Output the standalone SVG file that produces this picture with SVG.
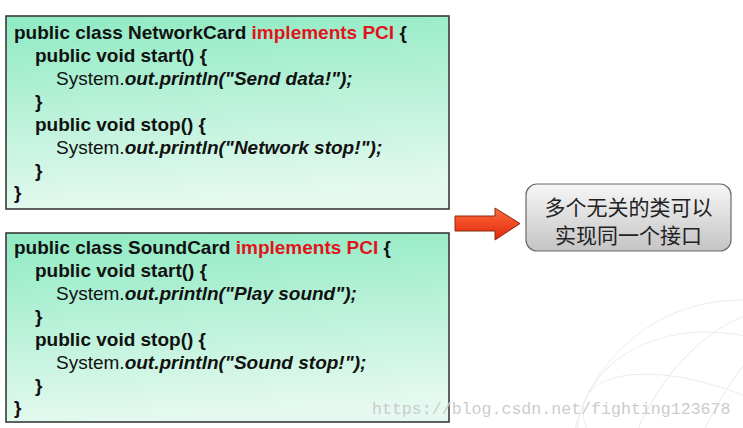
<svg xmlns="http://www.w3.org/2000/svg" width="743" height="428" viewBox="0 0 743 428">
<defs>
<linearGradient id="gBox" x1="0" y1="0" x2="0.15" y2="1">
<stop offset="0" stop-color="#8eeac3"/>
<stop offset="1" stop-color="#e4f9ef"/>
</linearGradient>
<linearGradient id="gNote" x1="0" y1="0" x2="0" y2="1">
<stop offset="0" stop-color="#f7f7f7"/>
<stop offset="1" stop-color="#c4c4c4"/>
</linearGradient>
<linearGradient id="gArrow" x1="0" y1="0" x2="0" y2="1">
<stop offset="0" stop-color="#ff6a3a"/>
<stop offset="1" stop-color="#e0280c"/>
</linearGradient>
<clipPath id="clipG"><rect x="0" y="0" width="743" height="428"/></clipPath>
<style>
.box{fill:url(#gBox);stroke:#3a3a3a;stroke-width:1.6}
.code{font-family:"Liberation Sans",Arial,sans-serif;font-size:19px;font-weight:bold;fill:#111}
.n{font-weight:normal}
.i{font-style:italic;font-weight:bold}
.kw{fill:#e0141c}
.note{font-family:"Noto Sans CJK SC",sans-serif;font-size:21px;fill:#222;text-anchor:middle}
.globe{fill:none;stroke:#ececec;stroke-width:1}
.wm{font-family:"Liberation Mono",monospace;font-size:16.6px;fill:#cccccc}
</style>
</defs>
<rect width="743" height="428" fill="#ffffff"/>
<g id="globe" clip-path="url(#clipG)">
<circle class="globe" cx="740" cy="470" r="170"/>
<ellipse class="globe" cx="740" cy="470" rx="110" ry="170" transform="rotate(25 740 470)"/>
<ellipse class="globe" cx="740" cy="470" rx="50" ry="170" transform="rotate(25 740 470)"/>
<ellipse class="globe" cx="740" cy="470" rx="170" ry="70" transform="rotate(25 740 470)"/>
<ellipse class="globe" cx="740" cy="470" rx="170" ry="130" transform="rotate(25 740 470)"/>
</g>
<g id="networkcard">
<rect class="box" x="6" y="16" width="443" height="193"/>
<text class="code" x="14" y="39">public class NetworkCard <tspan class="kw">implements PCI</tspan> {</text>
<text class="code" x="35" y="62">public void start() {</text>
<text class="code" x="56" y="85"><tspan class="n">System.</tspan><tspan class="i">out.println("Send data!");</tspan></text>
<text class="code" x="35" y="108">}</text>
<text class="code" x="35" y="131">public void stop() {</text>
<text class="code" x="56" y="154"><tspan class="n">System.</tspan><tspan class="i">out.println("Network stop!");</tspan></text>
<text class="code" x="35" y="177">}</text>
<text class="code" x="14" y="199">}</text>
</g>
<g id="soundcard">
<rect class="box" x="6" y="233" width="443" height="189"/>
<text class="code" x="14" y="254">public class SoundCard <tspan class="kw">implements PCI</tspan> {</text>
<text class="code" x="35" y="277">public void start() {</text>
<text class="code" x="56" y="300"><tspan class="n">System.</tspan><tspan class="i">out.println("Play sound");</tspan></text>
<text class="code" x="35" y="323">}</text>
<text class="code" x="35" y="346">public void stop() {</text>
<text class="code" x="56" y="369"><tspan class="n">System.</tspan><tspan class="i">out.println("Sound stop!");</tspan></text>
<text class="code" x="35" y="392">}</text>
<text class="code" x="14" y="414">}</text>
</g>
<g id="connectors">
<path d="M455 216 H495 V208 L520 223.5 L495 240 V231 H455 Z" fill="url(#gArrow)" stroke="#8a2a10" stroke-width="1"/>
</g>
<g id="note">
<rect x="526" y="184" width="205" height="67" rx="11" ry="11" fill="url(#gNote)" stroke="#6a6a6a" stroke-width="1.2"/>
<text class="note" x="628.5" y="215">多个无关的类可以</text>
<text class="note" x="628.5" y="243">实现同一个接口</text>
</g>
<text class="wm" x="372" y="414">https://blog.csdn.net/fighting123678</text>
</svg>
